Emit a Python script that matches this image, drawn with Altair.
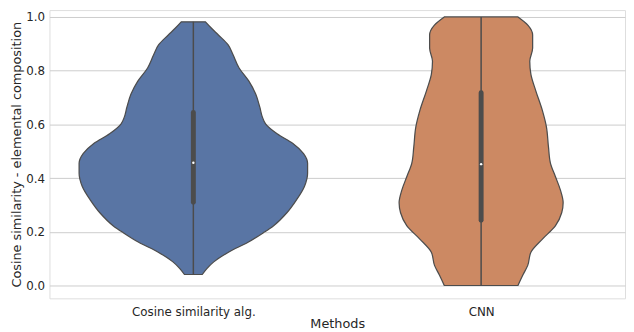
import altair as alt
import pandas as pd

methods = ["Cosine similarity alg.", "CNN"]
colors = ["#5975a4", "#cc8963"]

# violin profiles (value, half-width in category units)
cos_y = [0.982, 0.957, 0.933, 0.896, 0.859, 0.810, 0.761, 0.712, 0.664, 0.627, 0.602, 0.565,
         0.529, 0.491, 0.455, 0.418, 0.369, 0.320, 0.271, 0.222, 0.197, 0.161, 0.124, 0.088,
         0.063, 0.041]
cos_w = [0.042, 0.064, 0.087, 0.121, 0.138, 0.159, 0.193, 0.217, 0.231, 0.240, 0.251, 0.291,
         0.346, 0.383, 0.397, 0.397, 0.386, 0.359, 0.325, 0.278, 0.244, 0.190, 0.122, 0.071,
         0.047, 0.031]
cnn_y = [1.0, 0.969, 0.933, 0.884, 0.835, 0.786, 0.725, 0.651, 0.590, 0.516, 0.455, 0.406,
         0.357, 0.308, 0.271, 0.222, 0.173, 0.124, 0.075, 0.039, 0.0]
cnn_w = [0.128, 0.163, 0.179, 0.179, 0.169, 0.173, 0.190, 0.213, 0.227, 0.234, 0.241, 0.258,
         0.275, 0.285, 0.280, 0.258, 0.213, 0.173, 0.162, 0.145, 0.128]

# box statistics per method
mins = [0.041, 0.0]
q1s = [0.310, 0.243]
medians = [0.457, 0.452]
q3s = [0.644, 0.718]
maxs = [0.982, 1.0]

profiles = []
for i, (ys, ws) in enumerate([(cos_y, cos_w), (cnn_y, cnn_w)]):
    profiles.append(pd.DataFrame({"method": methods[i], "pos": i, "y": ys, "hw": ws}))

stats = pd.DataFrame({"method": methods, "pos": [0, 1], "mn": mins, "q1": q1s,
                      "med": medians, "q3": q3s, "mx": maxs})

xscale = alt.Scale(domain=[-0.5, 1.5], nice=False, zero=False)
yscale = alt.Scale(domain=[-0.0478, 1.0257], nice=False, zero=False)

xaxis = alt.Axis(values=[0, 1], title="Methods", grid=False, ticks=False, domain=False,
                 labelExpr="datum.value == 0 ? 'Cosine similarity alg.' : 'CNN'",
                 labelFontSize=12, labelPadding=8, titleFontSize=13, titlePadding=1,
                 labelFontWeight="normal", titleFontWeight="normal")
yaxis = alt.Axis(values=[0, 0.2, 0.4, 0.6, 0.8, 1.0], format=".1f",
                 title="Cosine similarity - elemental composition",
                 grid=True, gridColor="#cccccc", gridWidth=1, ticks=False, domain=False,
                 labelFontSize=12, labelPadding=5, titleFontSize=13, titlePadding=2,
                 titleFontWeight="normal")

violins = []
for i in range(2):
    v = alt.Chart(profiles[i]).transform_calculate(
        x1="datum.pos - datum.hw", x2="datum.pos + datum.hw"
    ).mark_area(orient="horizontal", interpolate="monotone", stroke="#4c4c4c",
                strokeWidth=1.25, opacity=1, fill=colors[i]).encode(
        y=alt.Y("y:Q", scale=yscale, axis=yaxis),
        x=alt.X("x1:Q", scale=xscale, axis=xaxis),
        x2="x2:Q",
    )
    violins.append(v)

whisker = alt.Chart(stats).mark_rule(color="#4c4c4c", strokeWidth=1.5).encode(
    x=alt.X("pos:Q", scale=xscale),
    y=alt.Y("mn:Q", scale=yscale),
    y2="mx:Q",
)
box = alt.Chart(stats).mark_rule(color="#4c4c4c", strokeWidth=5, strokeCap="round").encode(
    x=alt.X("pos:Q", scale=xscale),
    y=alt.Y("q1:Q", scale=yscale),
    y2="q3:Q",
)
med = alt.Chart(stats).mark_circle(color="white", size=6, opacity=1).encode(
    x=alt.X("pos:Q", scale=xscale),
    y=alt.Y("med:Q", scale=yscale),
)

chart = alt.layer(*violins, whisker, box, med).properties(
    width=583, height=292,
    autosize=alt.AutoSizeParams(type="none"),
    padding={"left": 42, "top": 0, "right": 1, "bottom": 32},
).configure_view(
    stroke="#cccccc", strokeWidth=1.25
).configure(
    font="DejaVu Sans"
).configure_axis(
    labelColor="#262626", titleColor="#262626"
)

chart.save("out.html", embed_options={"renderer": "svg", "actions": False})
